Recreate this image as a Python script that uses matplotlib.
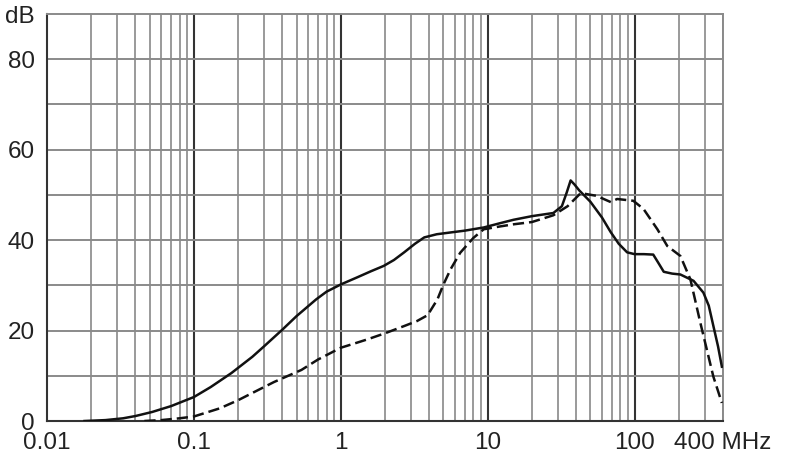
import numpy as np
import matplotlib.pyplot as plt
from matplotlib.ticker import FixedLocator, NullFormatter

plt.rcParams['font.family'] = ['Liberation Sans', 'DejaVu Sans']

# curva continua (frecuencia en MHz, atenuacion en dB)
f_solida = [0.018, 0.025, 0.033, 0.04, 0.052, 0.07, 0.1, 0.13, 0.18, 0.25, 0.3, 0.4, 0.5,
            0.68, 0.8, 1.0, 1.3, 1.6, 1.96, 2.3, 2.7, 3.2, 3.7, 4.5, 5.6, 7, 9.4,
            12, 15, 20, 28, 32, 34.5, 36.7, 39, 42, 50, 60, 68.7, 78, 89, 100, 115.7,
            134, 145, 158, 180, 205, 252, 294, 320, 344, 370, 393]
db_solida = [0, 0.2, 0.6, 1.1, 2, 3.3, 5.3, 7.5, 10.6, 14.2, 16.5, 20.2, 23.2,
             26.9, 28.6, 30.2, 31.8, 33.1, 34.3, 35.6, 37.3, 39.2, 40.6, 41.3, 41.7, 42.1, 42.8,
             43.7, 44.5, 45.3, 46, 47.5, 50.5, 53.2, 52.3, 51, 48.5, 45, 41.8, 39.2, 37.3, 36.9, 36.9,
             36.8, 35, 33, 32.6, 32.4, 31, 28.4, 25.5, 21, 16.5, 12]

# curva discontinua
f_trazos = [0.046, 0.06, 0.08, 0.1, 0.15, 0.2, 0.25, 0.35, 0.54, 0.7, 1.0, 1.2, 1.5, 2.0, 2.7,
            3.3, 3.9, 4.55, 5.0, 5.6, 6.5, 8, 9.4, 12, 15, 20, 28, 35, 43, 55, 69, 76, 98,
            115, 143, 167, 205, 240, 280, 344, 393]
db_trazos = [0, 0.2, 0.6, 1, 2.8, 4.6, 6.2, 8.6, 11.3, 13.6, 16.2, 17, 18, 19.4, 21,
             22.1, 23.4, 26.9, 30.2, 33.6, 37.2, 40.5, 42.4, 43, 43.5, 44, 45.5, 47.5, 50.4, 49.8, 48.4, 49.1, 48.7,
             46.9, 42.4, 38.7, 36.5, 31.3, 21.8, 9.8, 4]

x_ticks = [0.01, 0.1, 1, 10, 100, 400]
x_labels = ['0.01', '0.1', '1', '10', '100', '400 MHz']
y_ticks = [0, 20, 40, 60, 80, 90]
y_labels = ['0', '20', '40', '60', '80', 'dB']

fig = plt.figure(figsize=(7.9, 4.63), dpi=100)
ax = fig.add_axes([0.0595, 0.0907, 0.8557, 0.879])

ax.set_xscale('log')
ax.set_xlim(0.01, 400)
ax.set_ylim(0, 90)

# rejilla: decadas oscuras, subdivisiones grises
menores = [m * 10.0**e for e in range(-2, 3) for m in range(2, 10) if m * 10.0**e <= 400]
ax.xaxis.set_minor_locator(FixedLocator(menores))
ax.xaxis.set_minor_formatter(NullFormatter())
for v in menores:
    ax.axvline(v, color='#9a9a9a', lw=1.4, zorder=1)
for v in [0.1, 1, 10, 100]:
    ax.axvline(v, color='#333333', lw=1.5, zorder=1)
for h in range(10, 90, 10):
    ax.axhline(h, color='#8a8a8a', lw=1.4, zorder=1)

ax.plot(f_solida, db_solida, color='#111111', lw=1.8, zorder=3)
ax.plot(f_trazos, db_trazos, color='#111111', lw=1.8, dashes=(4.5, 2), zorder=3)

ax.set_xticks(x_ticks)
ax.set_xticklabels(x_labels)
ax.set_yticks(y_ticks)
ax.set_yticklabels(y_labels)
ax.tick_params(which='both', length=0, labelsize=17.5, colors='#222222')
ax.tick_params(axis='x', pad=8)
ax.tick_params(axis='y', pad=9)

for lado in ['left', 'bottom']:
    ax.spines[lado].set_color('#333333')
    ax.spines[lado].set_linewidth(1.5)
for lado in ['top', 'right']:
    ax.spines[lado].set_color('#8a8a8a')
    ax.spines[lado].set_linewidth(1.4)

plt.savefig('out.png', dpi=100)
plt.close()
